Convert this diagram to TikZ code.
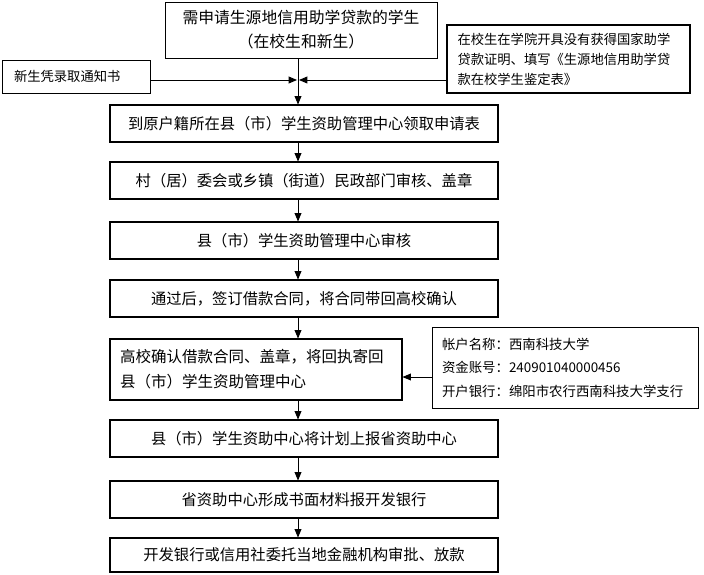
\documentclass[tikz,border=0pt]{standalone}
\usepackage{fontspec}
\newfontfamily\cjk{Noto Sans CJK SC}
\usepackage{tikz}
\usetikzlibrary{arrows}

\begin{document}
\begin{tikzpicture}[x=1pt,y=-1pt,
        stepbox/.style={draw,line width=1.1pt,minimum width=388pt,minimum height=37pt,inner sep=0pt,font=\cjk\fontsize{15.3}{18}\selectfont},
        sidebox/.style={draw,inner sep=0pt,align=left,font=\cjk\fontsize{13.3}{20}\selectfont},
        flow/.style={line width=0.9pt,-triangle 45}]
        \useasboundingbox (0,0) rectangle (704,575);
        \coordinate (meet) at (298,80);
        \node[draw,line width=0.7pt,minimum width=272pt,minimum height=56pt,align=center,font=\cjk\fontsize{15.8}{24}\selectfont] (apply) at (301,30) {需申请生源地信用助学贷款的学生\\（在校生和新生）};
        \node[sidebox,line width=0.8pt,minimum width=148pt,minimum height=33pt,text width=124pt] (newstu) at (76,76.5) {新生凭录取通知书};
        \node[sidebox,line width=1.8pt,minimum width=243pt,minimum height=68pt,text width=222pt] (oldstu) at (568.5,59) {在校生在学院开具没有获得国家助学\\贷款证明、填写《生源地信用助学贷\\款在校学生鉴定表》};
        \node[stepbox] (form) at (304,123.5) {到原户籍所在县（市）学生资助管理中心领取申请表};
        \node[stepbox] (village) at (304,180.5) {村（居）委会或乡镇（街道）民政部门审核、盖章};
        \node[stepbox] (county) at (304,240.5) {县（市）学生资助管理中心审核};
        \node[stepbox] (contract) at (304,298.5) {通过后，签订借款合同，将合同带回高校确认};
        \node[stepbox,minimum width=292pt,minimum height=61pt,text width=272pt,align=left,font=\cjk\fontsize{15.5}{25}\selectfont] (confirm) at (256,369.5) {高校确认借款合同、盖章，将回执寄回\\县（市）学生资助管理中心};
        \node[sidebox,line width=0.9pt,minimum width=266pt,minimum height=81pt,text width=246pt,font=\cjk\fontsize{13.4}{23.5}\selectfont] (account) at (565,367.5) {帐户名称：西南科技大学\\资金账号：240901040000456\\开户银行：绵阳市农行西南科技大学支行};
        \node[stepbox] (report) at (304,438.5) {县（市）学生资助中心将计划上报省资助中心};
        \node[stepbox] (province) at (304,499.5) {省资助中心形成书面材料报开发银行};
        \node[stepbox,minimum height=34pt] (loan) at (304,555) {开发银行或信用社委托当地金融机构审批、放款};
        % connectors
        \draw[line width=0.9pt] (apply.south -| meet) -- (meet);
        \draw[flow] (meet) -- (form.north -| meet);
        \draw[flow] (newstu.east |- meet) -- ([xshift=-1pt]meet);
        \draw[flow] (oldstu.west |- meet) -- ([xshift=1pt]meet);
        \draw[flow] (form.south -| meet) -- (village.north -| meet);
        \draw[flow] (village.south -| meet) -- (county.north -| meet);
        \draw[flow] (county.south -| meet) -- (contract.north -| meet);
        \draw[flow] (contract.south -| meet) -- (confirm.north -| meet);
        \draw[flow] (account.west |- 0,377) -- (confirm.east |- 0,377);
        \draw[flow] (confirm.south -| meet) -- (report.north -| meet);
        \draw[flow] (report.south -| meet) -- (province.north -| meet);
        \draw[flow] (province.south -| meet) -- (loan.north -| meet);
\end{tikzpicture}
\end{document}
